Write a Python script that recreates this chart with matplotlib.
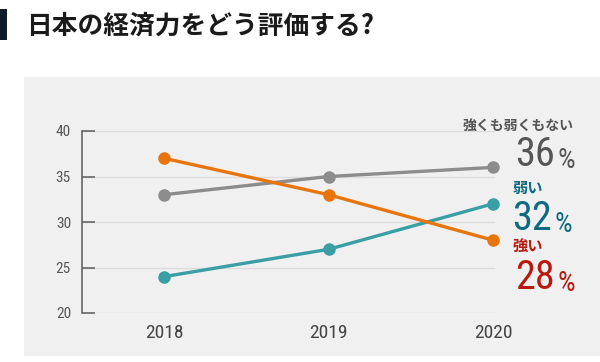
import matplotlib.pyplot as plt
from matplotlib.patches import Rectangle

years = [2018, 2019, 2020]
neither = [33, 35, 36]   # 強くも弱くもない
weak = [24, 27, 32]      # 弱い
strong = [37, 33, 28]    # 強い
labels = ["強くも弱くもない", "弱い", "強い"]
yticks = [20, 25, 30, 35, 40]

jp = ["Noto Sans CJK JP", "DejaVu Sans"]
num = ["Roboto Condensed", "Roboto", "DejaVu Sans"]

fig = plt.figure(figsize=(6, 3.62), dpi=100)
fig.patch.set_facecolor("white")

# grey panel and title
fig.patches.append(Rectangle((24/600, 6/362), 576/600, 279/362, transform=fig.transFigure,
                             facecolor="#f0f0f0", edgecolor="none", zorder=-2))
fig.patches.append(Rectangle((0, 322/362), 7/600, 31/362, transform=fig.transFigure,
                             facecolor="#0d1b2a", edgecolor="none", zorder=-1))
fig.text(26/600, 1 - 26/362, "日本の経済力をどう評価する?", family=jp, fontsize=18.5,
         fontweight="bold", color="#1a1a1a", va="center", ha="left")

ax = fig.add_axes([82/600, 49/362, 413/600, 182/362])
ax.set_facecolor("none")
ax.set_xlim(2017.5, 2020.012)
ax.set_ylim(20, 40)

series = [
    (neither, "#8c8c8c", "#555555", labels[0], 10, (-31, 42), (22, 1)),
    (weak, "#3a9ea5", "#0f6a80", labels[1], 11, (19, 16), (19, -26)),
    (strong, "#e8740c", "#b8190f", labels[2], 11, (19, -6), (22, -49)),
]
for vals, c, tc, lab, lsz, loff, noff in series:
    ax.plot(years, vals, color=c, lw=2.4, marker="o", ms=8, clip_on=False, zorder=3,
            solid_capstyle="round")
    ax.annotate(lab, xy=(years[-1], vals[-1]), xytext=loff, textcoords="offset pixels",
                family=jp, fontsize=lsz, fontweight="bold", color=tc, ha="left", va="center",
                annotation_clip=False)
    t = ax.annotate(str(vals[-1]), xy=(years[-1], vals[-1]), xytext=noff, textcoords="offset pixels",
                    family=num, fontsize=29, fontweight=400, color=tc, ha="left",
                    va="baseline", annotation_clip=False)
    ax.annotate("%", xy=(1, 0), xycoords=t, xytext=(3, 0), textcoords="offset pixels",
                family=num, fontsize=20, fontweight=400, color=tc, ha="left", va="bottom",
                annotation_clip=False)

ax.set_yticks(yticks)
ax.set_xticks(years)
ax.grid(axis="y", color="#dcdcdc", lw=1)
ax.set_axisbelow(True)
for s in ["top", "right", "bottom"]:
    ax.spines[s].set_visible(False)
ax.spines["left"].set_color("#666666")
ax.spines["left"].set_linewidth(1.2)
ax.tick_params(axis="y", direction="in", length=9, width=1.2, color="#666666",
               labelsize=11, labelcolor="#555555", pad=8)
ax.tick_params(axis="x", length=0, labelsize=14, labelcolor="#444444", pad=8)
for lbl in ax.get_xticklabels() + ax.get_yticklabels():
    lbl.set_family(num)

fig.savefig("out.png", dpi=100)
